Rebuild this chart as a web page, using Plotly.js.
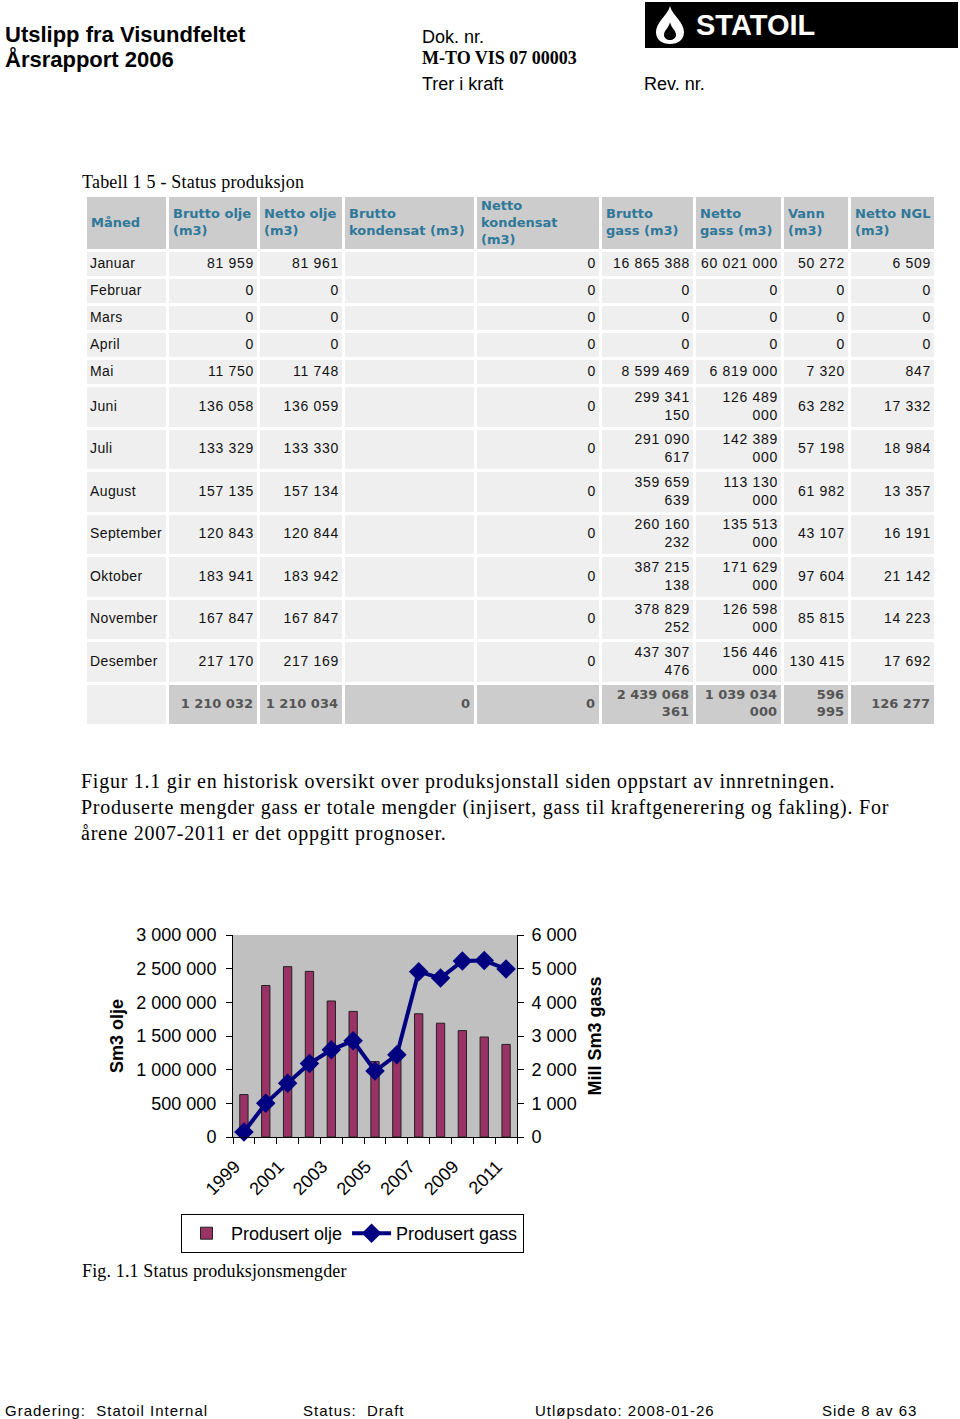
<!DOCTYPE html>
<html>
<head>
<meta charset="utf-8">
<script src="https://cdn.plot.ly/plotly-3.0.1.min.js"></script>
<style>
html,body{margin:0;padding:0;background:#fff;}
#page{width:960px;height:1419px;}
</style>
</head>
<body>
<div id="page"></div>
<script>
// ---------- Table data (Tabell 1 5 - Status produksjon) ----------
const months = ['Januar','Februar','Mars','April','Mai','Juni','Juli','August','September','Oktober','November','Desember'];
const bruttoOlje = [81959,0,0,0,11750,136058,133329,157135,120843,183941,167847,217170];
const nettoOlje = [81961,0,0,0,11748,136059,133330,157134,120844,183942,167847,217169];
const bruttoKondensat = [null,null,null,null,null,null,null,null,null,null,null,null];
const nettoKondensat = [0,0,0,0,0,0,0,0,0,0,0,0];
const bruttoGass = [16865388,0,0,0,8599469,299341150,291090617,359659639,260160232,387215138,378829252,437307476];
const nettoGass = [60021000,0,0,0,6819000,126489000,142389000,113130000,135513000,171629000,126598000,156446000];
const vann = [50272,0,0,0,7320,63282,57198,61982,43107,97604,85815,130415];
const nettoNGL = [6509,0,0,0,847,17332,18984,13357,16191,21142,14223,17692];
const totals = [1210032,1210034,0,0,2439068361,1039034000,596995,126277];
const headers = ['Måned','Brutto olje<br>(m3)','Netto olje<br>(m3)','Brutto<br>kondensat (m3)','Netto<br>kondensat<br>(m3)','Brutto<br>gass (m3)','Netto<br>gass (m3)','Vann<br>(m3)','Netto NGL<br>(m3)'];

// ---------- Chart data (Fig. 1.1 Status produksjonsmengder) ----------
const years = [1999,2000,2001,2002,2003,2004,2005,2006,2007,2008,2009,2010,2011];
const produsertOlje = [630000,2250000,2530000,2460000,2020000,1865000,1120000,1210000,1830000,1690000,1580000,1485000,1375000];
const produsertGass = [150,1000,1600,2180,2590,2860,1960,2440,4910,4720,5230,5240,4990];
const yearLabels = ['1999','2001','2003','2005','2007','2009','2011'];

// ---------- page geometry ----------
const W = 960, H = 1419;
const px = x => x / W;
const py = y => 1 - y / H;
const colWidths = [82, 91, 85, 132, 125, 94, 88, 67, 86];
const rowHeights = [55, 27, 27, 27, 27, 27, 42.5, 42.5, 42.5, 42.5, 42.5, 42.5, 42.5, 42];
const colEdges = [0]; colWidths.forEach(w => colEdges.push(colEdges[colEdges.length - 1] + w));
const rowEdges = [0]; rowHeights.forEach(h => rowEdges.push(rowEdges[rowEdges.length - 1] + h));
const rowCenter = r => (rowEdges[r] + rowEdges[r + 1]) / 2;
const tableTop = 196, tableLeft = 86;
const tableW = colEdges[colEdges.length - 1], tableH = rowEdges[rowEdges.length - 1];

const fmt = v => (v === null || v === undefined) ? '' : String(v).replace(/\B(?=(\d{3})+(?!\d))/g, ' ');
const wrap = (s, maxChars) => {
  if (s.length <= maxChars) return s;
  const i = s.lastIndexOf(' ');
  return s.slice(0, i) + '<br>' + s.slice(i + 1);
};
const spaced = (s, ls) => '<span style="letter-spacing:' + ls + 'px">' + s + '</span>';

const dataCols = [bruttoOlje, nettoOlje, bruttoKondensat, nettoKondensat, bruttoGass, nettoGass, vann, nettoNGL];
const normalMax = [10,10,12,12,10,10,10,10];
const boldMax = [9,9,12,12,9,9,6,7];
const nData = months.length;

// cell shading: header + totals darker
const zCells = [];
for (let r = 0; r < rowHeights.length; r++) {
  const row = [];
  for (let c = 0; c < colWidths.length; c++) {
    row.push((r === 0 || (r === rowHeights.length - 1 && c > 0)) ? 1 : 0);
  }
  zCells.push(row);
}

const cellTrace = {
  type: 'heatmap',
  x: colEdges, y: rowEdges, z: zCells,
  xaxis: 'x2', yaxis: 'y3',
  colorscale: [[0, '#efefef'], [1, '#cccccc']],
  zmin: 0, zmax: 1, showscale: false,
  xgap: 3, ygap: 3, hoverinfo: 'skip'
};

const headerText = {
  type: 'scatter', mode: 'text', showlegend: false, cliponaxis: false, hoverinfo: 'skip',
  xaxis: 'x2', yaxis: 'y3',
  x: headers.map((h, c) => colEdges[c] + 5),
  y: headers.map(() => rowCenter(0)),
  text: headers.map(h => '<b>' + h.split('<br>').join('</b><br><b>') + '</b>'),
  textposition: 'middle right',
  textfont: {family: 'DejaVu Sans, Verdana, sans-serif', size: 13, color: '#2f7899'}
};

const monthText = {
  type: 'scatter', mode: 'text', showlegend: false, cliponaxis: false, hoverinfo: 'skip',
  xaxis: 'x2', yaxis: 'y3',
  x: months.map(() => colEdges[0] + 4),
  y: months.map((m, r) => rowCenter(r + 1)),
  text: months.map(m => spaced(m, 0.4)),
  textposition: 'middle right',
  textfont: {family: 'Liberation Sans, Arial, sans-serif', size: 14, color: '#111'}
};

const nx = [], ny = [], nt = [], nfam = [], nsize = [], ncol = [];
dataCols.forEach((col, c) => {
  col.forEach((v, r) => {
    nx.push(colEdges[c + 2] - 5);
    ny.push(rowCenter(r + 1));
    nt.push(spaced(wrap(fmt(v), normalMax[c]), 0.7));
    nfam.push('Liberation Sans, Arial, sans-serif'); nsize.push(14); ncol.push('#111');
  });
  nx.push(colEdges[c + 2] - 6);
  ny.push(rowCenter(nData + 1));
  nt.push('<b>' + wrap(fmt(totals[c]), boldMax[c]).replace('<br>', '</b><br><b>') + '</b>');
  nfam.push('DejaVu Sans, Verdana, sans-serif'); nsize.push(13); ncol.push('#555');
});
const numberText = {
  type: 'scatter', mode: 'text', showlegend: false, cliponaxis: false, hoverinfo: 'skip',
  xaxis: 'x2', yaxis: 'y3',
  x: nx, y: ny, text: nt,
  textposition: 'middle left',
  textfont: {family: nfam, size: nsize, color: ncol}
};

// ---------- chart traces ----------
const barTrace = {
  type: 'bar',
  name: 'Produsert olje',
  x: years,
  y: produsertOlje,
  xaxis: 'x', yaxis: 'y',
  width: 0.38,
  marker: {color: '#993366', line: {color: '#222222', width: 1}}
};

const lineTrace = {
  type: 'scatter',
  mode: 'lines+markers',
  name: 'Produsert gass',
  x: years,
  y: produsertGass,
  xaxis: 'x', yaxis: 'y2',
  cliponaxis: false,
  line: {color: '#000080', width: 4},
  marker: {symbol: 'diamond', size: 15, color: '#000080'}
};

const boundaries = years.map(y => y - 0.5).concat([years[years.length - 1] + 0.5]);

const sans = 'Liberation Sans, Arial, sans-serif';
const serif = 'Liberation Serif, Times New Roman, serif';

function txt(x, y, text, size, family, extra) {
  return Object.assign({
    xref: 'paper', yref: 'paper', x: px(x), y: py(y),
    xanchor: 'left', yanchor: 'middle', showarrow: false, align: 'left',
    text: text, font: {family: family, size: size, color: '#000'}
  }, extra || {});
}

// logo drop path in paper coords
function pathFrom(points) {
  return points.map(p => {
    if (p.length === 1) return p[0];
    const out = [];
    for (let i = 1; i < p.length; i += 2) out.push(px(p[i]).toFixed(5) + ',' + py(p[i + 1]).toFixed(5));
    return p[0] + ' ' + out.join(' ');
  }).join(' ');
}
const outerDrop = pathFrom([
  ['M', 670, 6],
  ['C', 672, 15, 684, 22, 684, 32],
  ['C', 684, 40, 678, 44, 670, 44],
  ['C', 662, 44, 656, 40, 656, 32],
  ['C', 656, 22, 668, 15, 670, 6],
  ['Z']
]);
const innerDrop = pathFrom([
  ['M', 670, 22],
  ['C', 671, 28, 676, 30, 676, 35],
  ['C', 676, 38, 673, 40, 670, 40],
  ['C', 667, 40, 664, 38, 664, 35],
  ['C', 664, 30, 669, 28, 670, 22],
  ['Z']
]);

const layout = {
  width: W, height: H,
  margin: {l: 0, r: 0, t: 0, b: 0},
  paper_bgcolor: '#ffffff',
  plot_bgcolor: 'rgba(0,0,0,0)',
  separators: ', ',
  showlegend: true,
  legend: {
    orientation: 'h', x: px(181), y: py(1214), xanchor: 'left', yanchor: 'top',
    bgcolor: '#ffffff', bordercolor: '#000000', borderwidth: 1,
    itemwidth: 39,
    font: {family: sans, size: 18, color: '#000'}
  },
  xaxis: {
    domain: [px(233), px(517)], anchor: 'y',
    range: [1998.5, 2011.5],
    tickmode: 'array', tickvals: yearLabels.map(Number), ticktext: yearLabels,
    tickangle: -45, ticklabelshift: -9,
    ticks: 'outside', ticklen: 11, tickcolor: 'rgba(0,0,0,0)',
    minor: {tickmode: 'array', tickvals: boundaries, ticks: 'outside', ticklen: 6, tickcolor: '#000', tickwidth: 1},
    showline: true, linecolor: '#000', linewidth: 1,
    showgrid: false, zeroline: false,
    tickfont: {family: sans, size: 18, color: '#000'}
  },
  yaxis: {
    domain: [py(1137), py(935)], anchor: 'x',
    range: [0, 3000000], dtick: 500000, tickformat: ',d',
    ticks: 'outside', ticklen: 6, tickcolor: '#000',
    ticklabelstandoff: 6,
    showline: true, linecolor: '#000', linewidth: 1,
    showgrid: false, zeroline: false,
    tickfont: {family: sans, size: 18, color: '#000'},
    title: {text: '<b>Sm3 olje</b>', font: {family: sans, size: 18, color: '#000'}, standoff: 8}
  },
  yaxis2: {
    overlaying: 'y', side: 'right', anchor: 'x',
    range: [0, 6000], dtick: 1000, tickformat: ',d',
    ticks: 'outside', ticklen: 6, tickcolor: '#000',
    ticklabelstandoff: 4,
    showline: true, linecolor: '#000', linewidth: 1,
    showgrid: false, zeroline: false,
    tickfont: {family: sans, size: 18, color: '#000'},
    title: {text: '<b>Mill Sm3 gass</b>', font: {family: sans, size: 18, color: '#000'}, standoff: 12}
  },
  xaxis2: {
    domain: [px(tableLeft), px(tableLeft + tableW)], anchor: 'y3',
    range: [0, tableW], visible: false, fixedrange: true
  },
  yaxis3: {
    domain: [py(tableTop + tableH), py(tableTop)], anchor: 'x2',
    range: [tableH, 0], visible: false, fixedrange: true
  },
  shapes: [
    {type: 'rect', xref: 'x domain', yref: 'y domain', x0: 0, x1: 1, y0: 0, y1: 1,
     fillcolor: '#c0c0c0', line: {width: 0}, layer: 'below'},
    {type: 'rect', xref: 'paper', yref: 'paper', x0: px(645), x1: px(958), y0: py(48), y1: py(2),
     fillcolor: '#000', line: {width: 0}, layer: 'above'},
    {type: 'path', xref: 'paper', yref: 'paper', path: outerDrop, fillcolor: '#fff', line: {width: 0}, layer: 'above'},
    {type: 'path', xref: 'paper', yref: 'paper', path: innerDrop, fillcolor: '#000', line: {width: 0}, layer: 'above'}
  ],
  annotations: [
    txt(3, 34, '<b>Utslipp fra Visundfeltet</b>', 22, sans),
    txt(3, 59, '<b>Årsrapport 2006</b>', 22, sans),
    txt(420, 37, 'Dok. nr.', 18, sans),
    txt(420, 58, '<b>M-TO VIS 07 00003</b>', 18, serif),
    txt(420, 84, 'Trer i kraft', 18, sans),
    txt(642, 84, 'Rev. nr.', 18, sans),
    txt(694, 25, '<b>STATOIL</b>', 29, sans, {font: {family: sans, size: 29, color: '#fff'}}),
    txt(80, 182, spaced('Tabell 1 5 - Status produksjon', 0.2), 18, serif),
    txt(79, 807, spaced('Figur 1.1 gir en historisk oversikt over produksjonstall siden oppstart av innretningen.<br>' +
      'Produserte mengder gass er totale mengder (injisert, gass til kraftgenerering og fakling). For<br>' +
      'årene 2007-2011 er det oppgitt prognoser.', 0.75), 20, serif),
    txt(80, 1271, spaced('Fig. 1.1 Status produksjonsmengder', 0.15), 18, serif),
    txt(3, 1410, spaced('Gradering:  Statoil Internal', 1), 15, sans),
    txt(301, 1410, spaced('Status:  Draft', 1), 15, sans),
    txt(533, 1410, spaced('Utløpsdato: 2008-01-26', 1), 15, sans),
    txt(820, 1410, spaced('Side 8 av 63', 1), 15, sans)
  ]
};

Plotly.newPlot('page', [cellTrace, headerText, monthText, numberText, barTrace, lineTrace], layout, {displayModeBar: false, staticPlot: true});
</script>
</body>
</html>
